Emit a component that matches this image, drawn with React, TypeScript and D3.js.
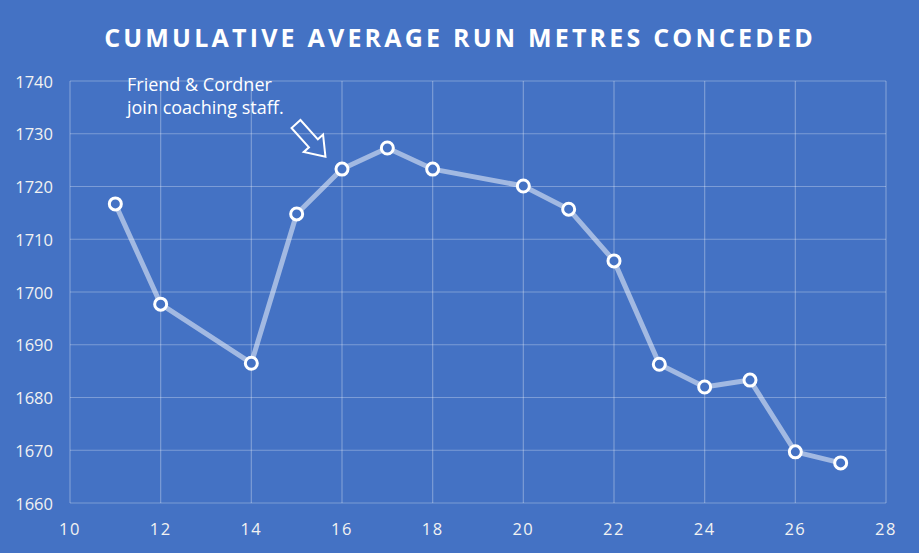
import { useEffect, useRef } from 'react';
import * as d3 from 'd3';

const rounds = [11, 12, 14, 15, 16, 17, 18, 20, 21, 22, 23, 24, 25, 26, 27];
const avgMetres = [1716.7, 1697.7, 1686.5, 1714.8, 1723.3, 1727.3, 1723.3, 1720.1, 1715.7, 1705.9, 1686.3, 1682.0, 1683.3, 1669.7, 1667.6];
const xTicks = [10, 12, 14, 16, 18, 20, 22, 24, 26, 28];
const yTicks = [1660, 1670, 1680, 1690, 1700, 1710, 1720, 1730, 1740];
const noteLines = ['Friend & Cordner', 'join coaching staff.'];

export default function App() {
  const ref = useRef<SVGSVGElement>(null);

  useEffect(() => {
    if (!ref.current) return;
    const svg = d3.select(ref.current);
    svg.selectAll('*').remove();

    const width = 919;
    const height = 553;
    const font = '"Open Sans", "Noto Sans", sans-serif';

    svg.append('rect').attr('width', width).attr('height', height).attr('fill', '#4472C4');

    const x = d3.scaleLinear().domain([10, 28]).range([70, 886]);
    const y = d3.scaleLinear().domain([1660, 1740]).range([503, 81]);

    // titulo
    svg.append('text')
      .attr('x', 460)
      .attr('y', 47)
      .attr('text-anchor', 'middle')
      .style('font-family', font)
      .style('font-weight', 'bold')
      .style('font-size', '25px')
      .style('letter-spacing', '3.2px')
      .style('fill', '#ffffff')
      .text('CUMULATIVE AVERAGE RUN METRES CONCEDED');

    // rejilla
    const grid = svg.append('g').attr('stroke', 'rgba(255,255,255,0.3)').attr('stroke-width', 1.2);
    yTicks.forEach(t => {
      grid.append('line').attr('x1', x(10)).attr('x2', x(28)).attr('y1', y(t)).attr('y2', y(t));
    });
    xTicks.forEach(t => {
      grid.append('line').attr('x1', x(t)).attr('x2', x(t)).attr('y1', y(1660)).attr('y2', y(1740));
    });

    // etiquetas de ejes
    svg.append('g').selectAll('text')
      .data(yTicks)
      .enter()
      .append('text')
      .attr('x', 53)
      .attr('y', d => y(d))
      .attr('text-anchor', 'end')
      .attr('dominant-baseline', 'central')
      .style('font-family', font)
      .style('font-size', '16.5px')
      .style('fill', '#f2f2f2')
      .text(d => d);

    svg.append('g').selectAll('text')
      .data(xTicks)
      .enter()
      .append('text')
      .attr('x', d => x(d))
      .attr('y', 528)
      .attr('text-anchor', 'middle')
      .attr('dominant-baseline', 'central')
      .style('font-family', font)
      .style('font-size', '16.5px')
      .style('letter-spacing', '1.5px')
      .style('fill', '#f2f2f2')
      .text(d => d);

    // linea
    const data = rounds.map((r, i) => ({ r, v: avgMetres[i] }));
    const line = d3.line<{ r: number; v: number }>().x(d => x(d.r)).y(d => y(d.v));
    svg.append('path')
      .datum(data)
      .attr('d', line)
      .attr('fill', 'none')
      .attr('stroke', 'rgba(255,255,255,0.5)')
      .attr('stroke-width', 5)
      .attr('stroke-linejoin', 'round');

    svg.append('g').selectAll('circle')
      .data(data)
      .enter()
      .append('circle')
      .attr('cx', d => x(d.r))
      .attr('cy', d => y(d.v))
      .attr('r', 6)
      .attr('fill', '#4472C4')
      .attr('stroke', '#ffffff')
      .attr('stroke-width', 3);

    // anotacion
    const note = svg.append('text')
      .style('font-family', font)
      .style('font-size', '18px')
      .style('fill', '#ffffff');
    noteLines.forEach((l, i) => {
      note.append('tspan').attr('x', 127).attr('y', 91 + i * 23).text(l);
    });

    // flecha
    const arrow = 'M0,-6 L26,-6 L26,-13 L44,0 L26,13 L26,6 L0,6 Z';
    svg.append('path')
      .attr('d', arrow)
      .attr('transform', 'translate(296,124) rotate(48)')
      .attr('fill', 'none')
      .attr('stroke', '#ffffff')
      .attr('stroke-width', 2)
      .attr('stroke-linejoin', 'miter');
  }, []);

  return <svg ref={ref} width={919} height={553} style={{ display: 'block', position: 'absolute', left: 0, top: 0 }} />;
}
